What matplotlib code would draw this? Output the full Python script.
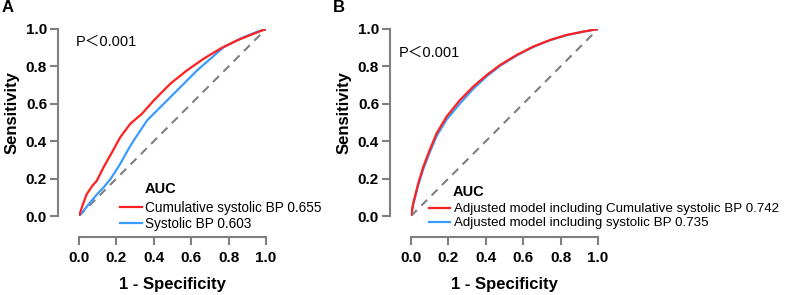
import matplotlib
matplotlib.use("Agg")
import matplotlib.pyplot as plt

plt.rcParams['font.family'] = ['Liberation Sans', 'Noto Sans CJK SC', 'DejaVu Sans']

# ROC points (1 - specificity, sensitivity)
a_red_fpr = [0.0, 0.02, 0.041, 0.07, 0.095, 0.131, 0.176, 0.22, 0.274, 0.337, 0.40, 0.489, 0.579, 0.668, 0.758, 0.848, 0.937, 1.0]
a_red_tpr = [0.0, 0.06, 0.116, 0.16, 0.188, 0.26, 0.34, 0.42, 0.493, 0.547, 0.618, 0.708, 0.78, 0.842, 0.896, 0.94, 0.976, 1.0]
a_blue_fpr = [0.0, 0.03, 0.059, 0.10, 0.131, 0.17, 0.22, 0.26, 0.292, 0.364, 0.435, 0.525, 0.633, 0.704, 0.776, 0.866, 0.955, 1.0]
a_blue_tpr = [0.0, 0.035, 0.072, 0.12, 0.152, 0.20, 0.278, 0.35, 0.403, 0.511, 0.582, 0.672, 0.78, 0.842, 0.905, 0.95, 0.986, 1.0]

b_red_fpr = [0.0, 0.012, 0.025, 0.039, 0.066, 0.10, 0.137, 0.19, 0.262, 0.333, 0.405, 0.476, 0.565, 0.654, 0.743, 0.832, 0.922, 1.0]
b_red_tpr = [0.0, 0.068, 0.12, 0.175, 0.264, 0.353, 0.442, 0.531, 0.62, 0.692, 0.754, 0.807, 0.861, 0.906, 0.941, 0.968, 0.986, 1.0]
b_blue_fpr = [0.0, 0.012, 0.025, 0.039, 0.066, 0.10, 0.137, 0.19, 0.262, 0.333, 0.405, 0.476, 0.565, 0.654, 0.743, 0.832, 0.922, 1.0]
b_blue_tpr = [0.0, 0.062, 0.112, 0.166, 0.252, 0.340, 0.428, 0.515, 0.602, 0.680, 0.747, 0.803, 0.858, 0.904, 0.940, 0.967, 0.986, 1.0]

a_labels = ['Cumulative systolic BP 0.655', 'Systolic BP 0.603']
b_labels = ['Adjusted model including Cumulative systolic BP 0.742',
            'Adjusted model including systolic BP 0.735']
ticks = [0.0, 0.2, 0.4, 0.6, 0.8, 1.0]

RED = '#ff2020'
BLUE = '#3a9cff'
GRAY = '#7f7f7f'

fig = plt.figure(figsize=(7.87, 2.95), dpi=100)
W, H = 787, 295


def make_axes(x0):
    return fig.add_axes([x0 / W, (H - 216) / H, 187 / W, 187 / H])


def style(ax):
    ax.set_xlim(0, 1)
    ax.set_ylim(0, 1)
    for s in ['top', 'right']:
        ax.spines[s].set_visible(False)
    for s in ['left', 'bottom']:
        ax.spines[s].set_color(GRAY)
        ax.spines[s].set_linewidth(1.5)
        ax.spines[s].set_position(('outward', 15))
    ax.set_xticks(ticks)
    ax.set_yticks(ticks)
    ax.set_xticklabels(['%.1f' % t for t in ticks])
    ax.set_yticklabels(['%.1f' % t for t in ticks])
    ax.tick_params(length=6, width=1.5, color=GRAY, labelsize=11, pad=2)
    ax.tick_params(axis='x', pad=4)
    for lab in ax.get_xticklabels() + ax.get_yticklabels():
        lab.set_fontweight('bold')
    ax.set_xlabel('1 - Specificity', fontsize=12, fontweight='bold', labelpad=9)
    ax.set_ylabel('Sensitivity', fontsize=12, fontweight='bold')
    ax.yaxis.set_label_coords(-0.32, 0.555, transform=ax.transAxes)
    ax.plot([0, 1], [0, 1], color=GRAY, lw=1.5, ls=(0, (4, 3)), zorder=1)


def legend(handles, labels, x, y, tx, ty, size):
    fig.legend(handles, labels, loc='upper left',
               bbox_to_anchor=(x / W, 1 - y / H), frameon=False,
               fontsize=size, handlelength=1.6, handletextpad=0.25,
               labelspacing=0.12, borderpad=0, borderaxespad=0)
    fig.text(tx / W, 1 - ty / H, 'AUC', fontsize=10.5, fontweight='bold',
             va='center', ha='left')


# panel A
ax1 = make_axes(79)
style(ax1)
l1, = ax1.plot(a_red_fpr, a_red_tpr, color=RED, lw=1.6, zorder=3)
l2, = ax1.plot(a_blue_fpr, a_blue_tpr, color=BLUE, lw=1.6, zorder=2)
ax1.text(-0.02, 0.93, 'P＜0.001', fontsize=10.5, va='center', ha='left')
legend([l1, l2], a_labels, 120, 201, 145, 189, 9.8)
fig.text(2 / W, 1 - 8 / H, 'A', fontsize=12, fontweight='bold', va='center')

# panel B
ax2 = make_axes(411)
style(ax2)
l3, = ax2.plot(b_blue_fpr, b_blue_tpr, color=BLUE, lw=1.6, zorder=2)
l4, = ax2.plot(b_red_fpr, b_red_tpr, color=RED, lw=1.6, zorder=3)
ax2.text(-0.065, 0.87, 'P＜0.001', fontsize=10.5, va='center', ha='left')
legend([l4, l3], b_labels, 429, 203, 453, 192, 9.6)
fig.text(333 / W, 1 - 8 / H, 'B', fontsize=12, fontweight='bold', va='center')

fig.savefig('out.png', dpi=100)
